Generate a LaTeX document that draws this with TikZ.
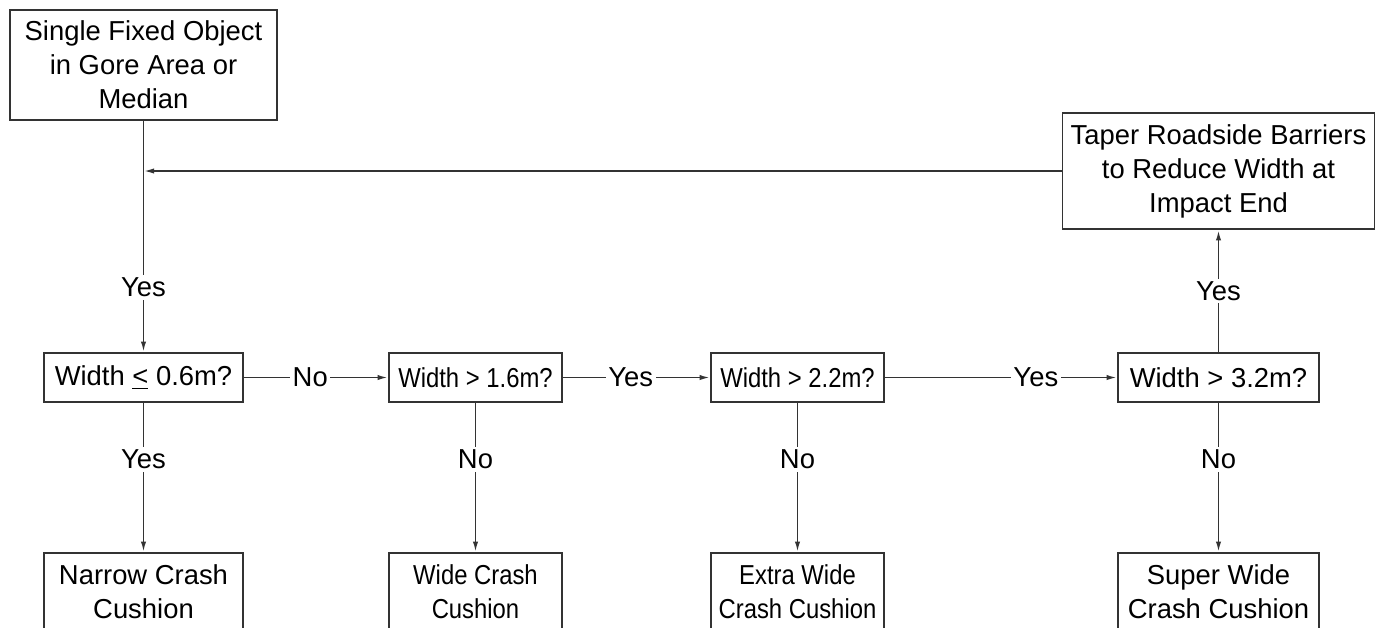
\documentclass[tikz,border=0pt]{standalone}
\usepackage{fontspec}
\setmainfont{Liberation Sans}
\newfontfamily\narrowsans[FakeStretch=0.87]{Liberation Sans}
\usetikzlibrary{arrows.meta}

\tikzset{
  chartbox/.style={draw=black!80, line width=1pt, align=center, inner sep=1pt,
    font=\fontsize{15.6}{19.4}\selectfont},
  narrowbox/.style={chartbox, font=\fontsize{15.6}{19.4}\narrowsans},
  flow/.style={draw=black!80, line width=1pt, -{Latex[length=6pt,width=3pt]}},
  answer/.style={fill=white, inner sep=1.5pt, font=\fontsize{15.6}{18}\selectfont}
}

\begin{document}
\begin{tikzpicture}[x=0.02cm, y=-0.02cm]
  \useasboundingbox (0,0) rectangle (1386,627);
  \clip (0,0) rectangle (1386,627);

  % start and taper boxes
  \node[chartbox, minimum width=5.34cm, minimum height=2.2cm] (start) at (143.5,65)
    {Single Fixed Object\\in Gore Area or\\Median};
  \node[chartbox, minimum width=6.24cm, minimum height=2.32cm] (taper) at (1218.5,171)
    {Taper Roadside Barriers\\to Reduce Width at\\Impact End};

  % decision row
  \node[chartbox, minimum width=3.98cm, minimum height=0.98cm] (w06) at (143.5,377.5) {Width \underline{<} 0.6m?};
  \node[narrowbox, minimum width=3.46cm, minimum height=0.98cm] (w16) at (475.5,377.5) {Width > 1.6m?};
  \node[narrowbox, minimum width=3.46cm, minimum height=0.98cm] (w22) at (797.5,377.5) {Width > 2.2m?};
  \node[chartbox, minimum width=4.02cm, minimum height=0.98cm] (w32) at (1218.5,377.5) {Width > 3.2m?};

  % cushions (cut off at the bottom)
  \node[chartbox, minimum width=3.98cm, minimum height=1.56cm] (narrow) at (143.5,592) {Narrow Crash\\Cushion};
  \node[narrowbox, minimum width=3.46cm, minimum height=1.56cm] (wide) at (475.5,592) {Wide Crash\\Cushion};
  \node[narrowbox, minimum width=3.46cm, minimum height=1.56cm] (extra) at (797.5,592) {Extra Wide\\Crash Cushion};
  \node[chartbox, minimum width=4.02cm, minimum height=1.56cm] (super) at (1218.5,592) {Super Wide\\Crash Cushion};

  \coordinate (join) at (taper.west -| start.south);

  % connectors
  \draw[flow] (start.south) -- node[answer, pos=0.72] {Yes} (w06.north);
  \draw[flow] (taper.west) -- (join);
  \draw[flow] (w06.east) -- node[answer, pos=0.46] {No} (w16.west);
  \draw[flow] (w16.east) -- node[answer, pos=0.46] {Yes} (w22.west);
  \draw[flow] (w22.east) -- node[answer, pos=0.65] {Yes} (w32.west);
  \draw[flow] (w32.north) -- node[answer] {Yes} (taper.south);

  \draw[flow] (w06.south) -- node[answer, pos=0.38] {Yes} (narrow.north);
  \draw[flow] (w16.south) -- node[answer, pos=0.38] {No} (wide.north);
  \draw[flow] (w22.south) -- node[answer, pos=0.38] {No} (extra.north);
  \draw[flow] (w32.south) -- node[answer, pos=0.38] {No} (super.north);
\end{tikzpicture}
\end{document}
